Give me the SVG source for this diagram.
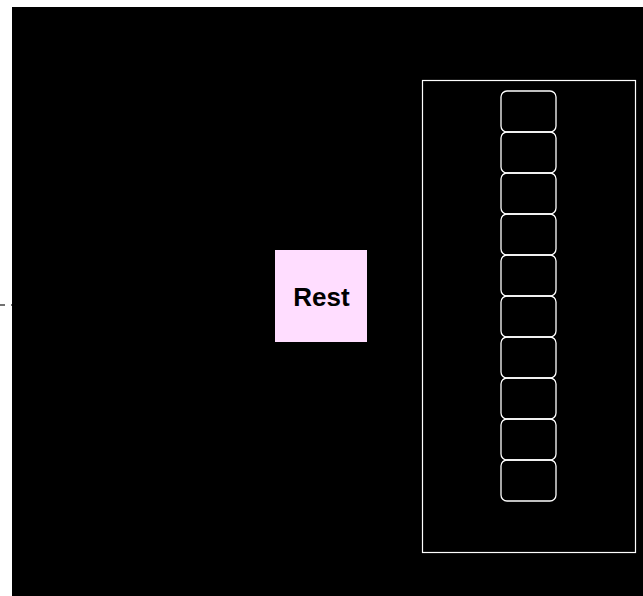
<svg xmlns="http://www.w3.org/2000/svg" width="643" height="596" viewBox="0 0 643 596">
<style>
.slot{fill:none;stroke:#ffffff;stroke-width:1.3}
.frame{fill:none;stroke:#ffffff;stroke-width:1.2}
.lbl{font-family:"Liberation Sans",Arial,sans-serif;font-weight:bold;font-size:26px;fill:#000000}
</style>
<rect x="0" y="0" width="643" height="596" fill="#ffffff"/>
<rect x="12" y="7" width="631" height="589" fill="#000000"/>
<g id="connectors">
<line x1="0" y1="305" x2="12" y2="305" stroke="#444444" stroke-width="1.5" stroke-dasharray="5,6"/>
</g>
<g id="rest">
<rect x="275" y="250" width="92" height="92" fill="#ffddff"/>
<text class="lbl" x="321.5" y="306" text-anchor="middle">Rest</text>
</g>
<g id="stack">
<rect class="frame" x="422.5" y="80.5" width="213" height="472"/>
<rect class="slot" x="501" y="91" width="55" height="41" rx="6"/>
<rect class="slot" x="501" y="132" width="55" height="41" rx="6"/>
<rect class="slot" x="501" y="173" width="55" height="41" rx="6"/>
<rect class="slot" x="501" y="214" width="55" height="41" rx="6"/>
<rect class="slot" x="501" y="255" width="55" height="41" rx="6"/>
<rect class="slot" x="501" y="296" width="55" height="41" rx="6"/>
<rect class="slot" x="501" y="337" width="55" height="41" rx="6"/>
<rect class="slot" x="501" y="378" width="55" height="41" rx="6"/>
<rect class="slot" x="501" y="419" width="55" height="41" rx="6"/>
<rect class="slot" x="501" y="460" width="55" height="41" rx="6"/>
</g>
</svg>
